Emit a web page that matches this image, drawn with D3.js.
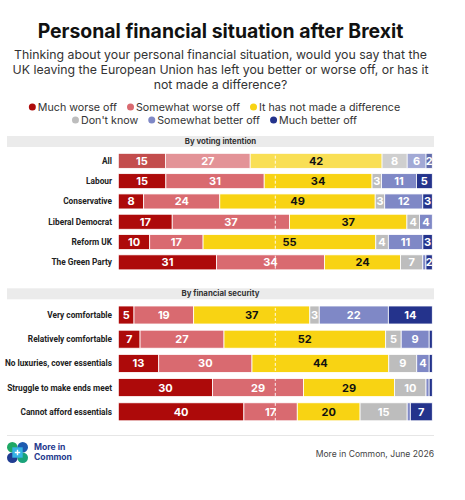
<!DOCTYPE html>
<html>
<head>
<meta charset="utf-8">
<script src="https://cdn.jsdelivr.net/npm/d3@7"></script>
<style>
  body { margin: 0; background: #fff; font-family: Inter, "Noto Sans", sans-serif; }
  svg text { font-family: Inter, "Noto Sans", sans-serif; }
  svg text.row-label { font-family: Roboto, "Liberation Sans", sans-serif; }
</style>
</head>
<body>
<svg id="chart" width="465" height="500"></svg>
<script>
const seriesNames = ["Much worse off", "Somewhat worse off", "It has not made a difference", "Don't know", "Somewhat better off", "Much better off"];
const seriesColors = ["#ad0a0a", "#d96a70", "#f8d313", "#bdbdbd", "#7f88c6", "#24338c"];

const votingGroups = ["All", "Labour", "Conservative", "Liberal Democrat", "Reform UK", "The Green Party"];
const votingMuchWorse = [15, 15, 8, 17, 10, 31];
const votingSomewhatWorse = [27, 31, 24, 37, 17, 34];
const votingNoDifference = [42, 34, 49, 37, 55, 24];
const votingDontKnow = [8, 3, 3, 4, 4, 7];
const votingSomewhatBetter = [6, 11, 12, 4, 11, 1];
const votingMuchBetter = [2, 5, 3, 0, 3, 2];

const securityGroups = ["Very comfortable", "Relatively comfortable", "No luxuries, cover essentials", "Struggle to make ends meet", "Cannot afford essentials"];
const securityMuchWorse = [5, 7, 13, 30, 40];
const securitySomewhatWorse = [19, 27, 30, 29, 17];
const securityNoDifference = [37, 52, 44, 29, 20];
const securityDontKnow = [3, 5, 9, 10, 15];
const securitySomewhatBetter = [22, 9, 4, 1, 1];
const securityMuchBetter = [14, 1, 1, 1, 7];

const svg = d3.select("#chart");
const centerX = 220.5;
const barLeft = 118.3, barRight = 432.3;

const x = d3.scaleLinear().domain([0, 1]).range([barLeft, barRight]);
const color = d3.scaleOrdinal().domain(seriesNames).range(seriesColors);

// title + question
svg.append("text")
  .attr("x", centerX).attr("y", 38)
  .attr("text-anchor", "middle")
  .attr("font-size", 19.4).attr("font-weight", 700).attr("fill", "#111")
  .text("Personal financial situation after Brexit");

const question = [
  "Thinking about your personal financial situation, would you say that the",
  "UK leaving the European Union has left you better or worse off, or has it",
  "not made a difference?"
];
svg.append("g").selectAll("text")
  .data(question)
  .join("text")
  .attr("x", centerX).attr("y", (d, i) => 58.5 + i * 15)
  .attr("text-anchor", "middle")
  .attr("font-size", 12.3).attr("fill", "#333")
  .text(d => d);

// legend, two centred rows
const legendRows = [seriesNames.slice(0, 3), seriesNames.slice(3)];
legendRows.forEach((row, r) => {
  const g = svg.append("g");
  let cx = 0;
  row.forEach(name => {
    const item = g.append("g").attr("transform", `translate(${cx},0)`);
    item.append("circle").attr("cx", 3.5).attr("cy", 0).attr("r", 3.5).attr("fill", color(name));
    const t = item.append("text").attr("x", 9).attr("y", 3.8)
      .attr("font-size", 10.7).attr("fill", "#333").text(name);
    cx += 9 + t.node().getComputedTextLength() + 10;
  });
  const w = cx - 10;
  g.attr("transform", `translate(${centerX - 6 - w / 2},${107 + r * 13})`);
});

const stack = d3.stack().keys(d3.range(seriesNames.length)).offset(d3.stackOffsetExpand);

const drawSection = (title, groups, series, top, bandTop, bandBottom, pad, fadeFirst) => {
  const y = d3.scaleBand().domain(groups).range([bandTop, bandBottom]).paddingInner(pad).paddingOuter(pad / 2);
  const rows = groups.map((g, i) => series.map(s => s[i]));
  const layers = stack(rows);

  svg.append("rect")
    .attr("x", 7).attr("y", top).attr("width", 427).attr("height", 11)
    .attr("fill", "#ebebeb");
  svg.append("text")
    .attr("x", centerX).attr("y", top + 8)
    .attr("text-anchor", "middle")
    .attr("font-size", 7.8).attr("font-weight", 700).attr("fill", "#333")
    .text(title);

  svg.append("g").selectAll("text")
    .data(groups)
    .join("text")
    .attr("class", "row-label")
    .attr("x", 112).attr("y", d => y(d) + y.bandwidth() / 2 + 3)
    .attr("text-anchor", "end")
    .attr("font-size", 8.3).attr("font-weight", 700).attr("fill", "#222")
    .text(d => d);

  const layer = svg.append("g").selectAll("g")
    .data(layers)
    .join("g")
    .attr("fill", d => seriesColors[d.key]);

  layer.selectAll("rect")
    .data(d => d.map((p, i) => ({ p, i })))
    .join("rect")
    .attr("x", d => x(d.p[0]))
    .attr("y", d => y(groups[d.i]))
    .attr("width", d => Math.max(0, x(d.p[1]) - x(d.p[0])))
    .attr("height", y.bandwidth())
    .attr("stroke", "#fff").attr("stroke-width", 0.8)
    .attr("opacity", d => (fadeFirst && d.i === 0 ? 0.72 : 1));

  layer.selectAll("text")
    .data((d, k) => d.map((p, i) => ({ p, i, k, v: series[k][i] })).filter(e => e.v >= 2))
    .join("text")
    .attr("x", d => (x(d.p[0]) + x(d.p[1])) / 2)
    .attr("y", d => y(groups[d.i]) + y.bandwidth() / 2 + 4)
    .attr("text-anchor", "middle")
    .attr("font-size", 11).attr("font-weight", 700)
    .attr("fill", d => (d.k === 2 ? "#111" : "#fff"))
    .text(d => d.v);

  svg.append("line")
    .attr("x1", x(0.5)).attr("x2", x(0.5))
    .attr("y1", bandTop).attr("y2", bandBottom)
    .attr("stroke", "#fff").attr("stroke-width", 0.9)
    .attr("stroke-dasharray", "3,2");
};

drawSection("By voting intention", votingGroups,
  [votingMuchWorse, votingSomewhatWorse, votingNoDifference, votingDontKnow, votingSomewhatBetter, votingMuchBetter],
  136, 150.7, 272.5, 0.26, true);

drawSection("By financial security", securityGroups,
  [securityMuchWorse, securitySomewhatWorse, securityNoDifference, securityDontKnow, securitySomewhatBetter, securityMuchBetter],
  288.3, 302.9, 423.9, 0.256, false);

// footer
svg.append("line")
  .attr("x1", 7).attr("x2", 434).attr("y1", 435.5).attr("y2", 435.5)
  .attr("stroke", "#e6e6e6").attr("stroke-width", 1);

const logo = svg.append("g").attr("transform", "translate(7,442)");
const petals = [
  { cx: 5.3, cy: 5.3, c: "#1fa866" },
  { cx: 15.7, cy: 5.3, c: "#1d5bb0" },
  { cx: 5.3, cy: 15.7, c: "#203d92" },
  { cx: 15.7, cy: 15.7, c: "#1aa37a" }
];
logo.selectAll("circle").data(petals).join("circle")
  .attr("cx", d => d.cx).attr("cy", d => d.cy).attr("r", 5.3).attr("fill", d => d.c);
logo.append("rect").attr("x", 5.3).attr("y", 5.3).attr("width", 10.4).attr("height", 10.4).attr("fill", "#35b3e4");
logo.append("path").attr("d", "M10.5,7.8V13.2M7.8,10.5H13.2").attr("stroke", "#fff").attr("stroke-width", 1.4);

svg.append("g").selectAll("text")
  .data(["More in", "Common"])
  .join("text")
  .attr("x", 34).attr("y", (d, i) => 449.5 + i * 10.5)
  .attr("font-size", 8.6).attr("font-weight", 700).attr("fill", "#263a8e")
  .text(d => d);

svg.append("text")
  .attr("x", 434).attr("y", 456.5)
  .attr("text-anchor", "end")
  .attr("font-size", 8.6).attr("fill", "#444")
  .text("More in Common, June 2026");
</script>
</body>
</html>
